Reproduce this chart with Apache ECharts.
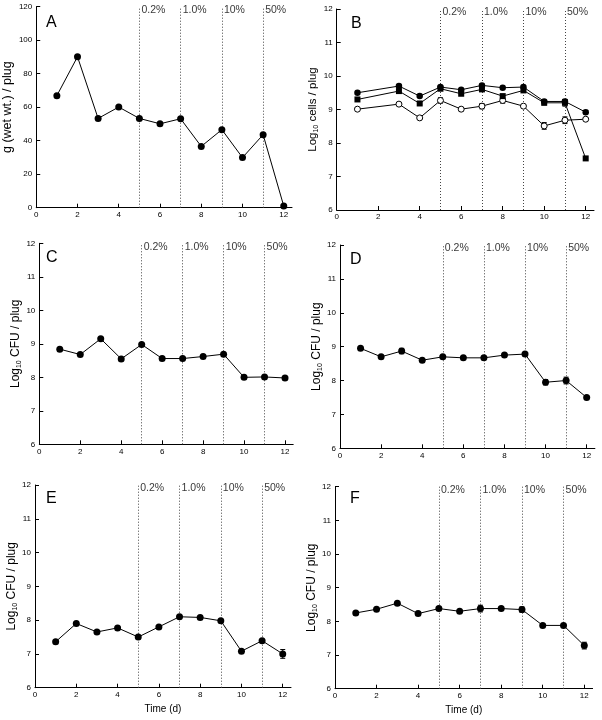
<!DOCTYPE html>
<html><head><meta charset="utf-8">
<script src="https://cdn.jsdelivr.net/npm/echarts@6/dist/echarts.min.js"></script>
<style>html,body{margin:0;padding:0;background:#fff}#c{width:602px;height:720px}</style>
</head><body><div id="c"></div><script>
// ---------- data ----------
const days = [1,2,3,4,5,6,7,8,9,10,11,12];
const daysB = [1,3,4,5,6,7,8,9,10,11,12];
const treatDays = [5,7,9,11];
const treatLabels = ['0.2%','1.0%','10%','50%'];
const xTicks = [0,2,4,6,8,10,12];
const aWetWeight = [66.9,90.1,53.3,60.1,53.3,50.1,53.1,36.6,46.6,29.9,43.6,1];
const bFilledCircle = [9.50,9.70,9.40,9.67,9.59,9.72,9.65,9.67,9.24,9.24,8.92];
const bFilledSquare = [9.30,9.55,9.18,9.62,9.47,9.60,9.40,9.57,9.20,9.20,7.54];
const bOpenCircle   = [9.01,9.16,8.75,9.27,9.01,9.10,9.27,9.10,8.51,8.68,8.71];
const bFilledCircleErr = [0,0.03,0,0.04,0.03,0.04,0,0.04,0.04,0.06,0.05];
const bFilledSquareErr = [0,0,0.04,0,0.03,0,0,0,0.06,0.10,0];
const bOpenCircleErr   = [0,0.03,0,0.08,0.05,0.08,0.08,0,0.10,0.10,0];
const cCFU = [8.84,8.68,9.15,8.55,8.98,8.56,8.56,8.62,8.69,8.00,8.01,7.98];
const cErr = [0,0,0,0,0,0,0,0,0,0,0,0.05];
const dCFU = [8.95,8.70,8.87,8.60,8.70,8.67,8.67,8.75,8.78,7.95,8.00,7.50];
const dErr = [0,0,0.08,0,0,0,0,0,0.03,0.08,0.10,0];
const eCFU = [7.36,7.90,7.65,7.77,7.50,7.80,8.10,8.08,7.98,7.08,7.39,7.00];
const eErr = [0,0,0,0,0,0,0,0,0.03,0,0,0.13];
const fCFU = [8.25,8.36,8.54,8.23,8.38,8.30,8.38,8.38,8.35,7.88,7.88,7.28];
const fErr = [0,0,0,0,0,0,0.10,0,0.08,0,0,0.10];

// ---------- layout ----------
const FONT = 'Liberation Sans, Arial, Helvetica, sans-serif';
const panels = [
  {letter:'A', grid:{left:35.7, top:6.7, width:256.3, height:201}, yMin:0, yMax:120, yInt:20,
   yName:'g (wet wt.) / plug', yGap:12, yFont:12.5, letterPos:[46,15], xName:null},
  {letter:'B', grid:{left:336.7, top:9, width:257.3, height:201}, yMin:6, yMax:12, yInt:1,
   yName:'Log{sub|10} cells / plug', yGap:12, yFont:11.5, letterPos:[351,16], xName:null},
  {letter:'C', grid:{left:39.3, top:243.3, width:253.9, height:201}, yMin:6, yMax:12, yInt:1,
   yName:'Log{sub|10} CFU / plug', yGap:17, yFont:12, letterPos:[46,250], xName:null},
  {letter:'D', grid:{left:340, top:245, width:254.9, height:203.3}, yMin:6, yMax:12, yInt:1,
   yName:'Log{sub|10} CFU / plug', yGap:15, yFont:12, letterPos:[350,252], xName:null},
  {letter:'E', grid:{left:35, top:485, width:256, height:202.7}, yMin:6, yMax:12, yInt:1,
   yName:'Log{sub|10} CFU / plug', yGap:16, yFont:12, letterPos:[46,491], xName:'Time (d)'},
  {letter:'F', grid:{left:335, top:486.7, width:257.6, height:202}, yMin:6, yMax:12, yInt:1,
   yName:'Log{sub|10} CFU / plug', yGap:11, yFont:12, letterPos:[350,491], xName:'Time (d)'}
];

const grids = [], xAxes = [], yAxes = [], series = [], graphics = [];

function pairs(xs, ys){ return xs.map((x,i)=>[x, ys[i]]); }
function errData(xs, ys, es){ return xs.map((x,i)=>[x, ys[i], es[i]]).filter(d=>d[2] > 0); }

function errRender(params, api){
  const x = api.value(0), y = api.value(1), e = api.value(2);
  const hi = api.coord([x, y + e]), lo = api.coord([x, y - e]);
  const w = 2.5, st = {stroke:'#000', lineWidth:1};
  return {type:'group', children:[
    {type:'line', shape:{x1:hi[0], y1:hi[1], x2:lo[0], y2:lo[1]}, style:st},
    {type:'line', shape:{x1:hi[0]-w, y1:hi[1], x2:hi[0]+w, y2:hi[1]}, style:st},
    {type:'line', shape:{x1:lo[0]-w, y1:lo[1], x2:lo[0]+w, y2:lo[1]}, style:st}
  ]};
}

function lineSeries(idx, data, symbol, size, open){
  return {type:'line', xAxisIndex:idx, yAxisIndex:idx, data:data, symbol:symbol, symbolSize:size,
    showAllSymbol:true, z:5,
    lineStyle:{color:'#000', width:1},
    itemStyle: open ? {color:'#fff', borderColor:'#000', borderWidth:1} : {color:'#000', borderWidth:0},
    emphasis:{disabled:true}, silent:true};
}
function errSeries(idx, data){
  return {type:'custom', xAxisIndex:idx, yAxisIndex:idx, data:data, renderItem:errRender, z:3, silent:true};
}

panels.forEach((p, i) => {
  grids.push(Object.assign({containLabel:false}, p.grid));
  xAxes.push({type:'value', gridIndex:i, min:0, max:12.4, interval:2,
    axisLine:{lineStyle:{color:'#000', width:1}},
    axisTick:{inside:true, length:4, lineStyle:{color:'#000'}, customValues:xTicks},
    axisLabel:{color:'#000', fontSize:8, fontFamily:FONT, margin:3, customValues:xTicks,
      formatter: v => (v % 2 === 0 ? String(v) : '')},
    splitLine:{show:false},
    name:p.xName || '', nameLocation:'middle', nameGap:17,
    nameTextStyle:{color:'#000', fontSize:10, fontFamily:FONT}});
  yAxes.push({type:'value', gridIndex:i, min:p.yMin, max:p.yMax, interval:p.yInt,
    axisLine:{show:true, lineStyle:{color:'#000', width:1}},
    axisTick:{show:true, inside:true, length:4, lineStyle:{color:'#000'}},
    axisLabel:{color:'#000', fontSize:8, fontFamily:FONT, margin:4},
    splitLine:{show:false},
    name:p.yName, nameLocation:'middle', nameRotate:90, nameGap:p.yGap,
    nameTextStyle:{color:'#000', fontSize:p.yFont, fontFamily:FONT, lineHeight:14,
      rich:{sub:{fontSize:7, fontFamily:FONT, color:'#000', verticalAlign:'bottom', lineHeight:14}}}});
  // treatment dotted lines + labels
  series.push({type:'scatter', xAxisIndex:i, yAxisIndex:i, silent:true, z:2,
    data: treatDays.map(d => [d, p.yMax]), symbolSize:0.1, itemStyle:{color:'rgba(0,0,0,0)'},
    label:{show:true, position:'right', distance:2, offset:[0,3.5], color:'#000', fontSize:10.5, fontFamily:FONT,
      formatter: q => treatLabels[q.dataIndex]},
    markLine:{silent:true, symbol:['none','none'], label:{show:false},
      lineStyle:{type:[1,2], color:'#444', width:1},
      data: treatDays.map(d => ({xAxis:d}))}});
  graphics.push({type:'text', left:p.letterPos[0], top:p.letterPos[1],
    style:{text:p.letter, fontSize:16, fontFamily:FONT, fill:'#000'}});
});

// A
series.push(lineSeries(0, pairs(days, aWetWeight), 'circle', 7, false));
// B
series.push(errSeries(1, errData(daysB, bFilledCircle, bFilledCircleErr)));
series.push(errSeries(1, errData(daysB, bFilledSquare, bFilledSquareErr)));
series.push(errSeries(1, errData(daysB, bOpenCircle, bOpenCircleErr)));
series.push(lineSeries(1, pairs(daysB, bOpenCircle), 'circle', 6, true));
series.push(lineSeries(1, pairs(daysB, bFilledSquare), 'rect', 6, false));
series.push(lineSeries(1, pairs(daysB, bFilledCircle), 'circle', 6.5, false));
// C
series.push(errSeries(2, errData(days, cCFU, cErr)));
series.push(lineSeries(2, pairs(days, cCFU), 'circle', 7, false));
// D
series.push(errSeries(3, errData(days, dCFU, dErr)));
series.push(lineSeries(3, pairs(days, dCFU), 'circle', 7, false));
// E
series.push(errSeries(4, errData(days, eCFU, eErr)));
series.push(lineSeries(4, pairs(days, eCFU), 'circle', 7, false));
// F
series.push(errSeries(5, errData(days, fCFU, fErr)));
series.push(lineSeries(5, pairs(days, fCFU), 'circle', 7, false));

const chart = echarts.init(document.getElementById('c'), null, {renderer:'canvas'});
chart.setOption({animation:false, backgroundColor:'#fff', grid:grids, xAxis:xAxes, yAxis:yAxes,
  series:series, graphic:graphics});
</script></body></html>
